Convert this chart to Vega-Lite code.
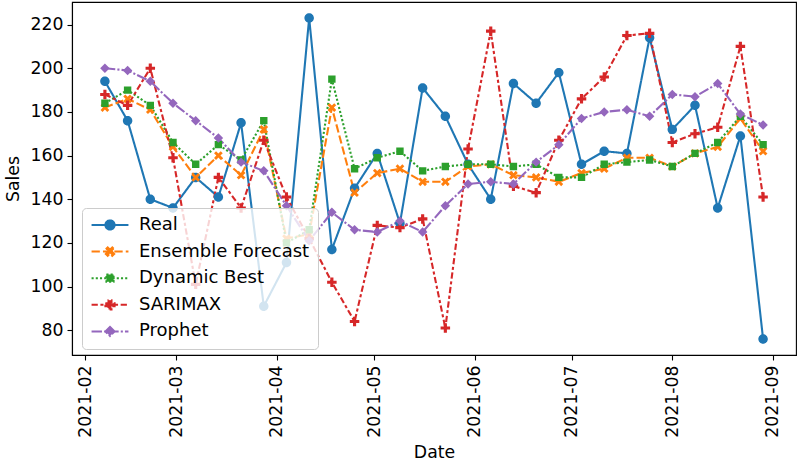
{
  "$schema": "https://vega.github.io/schema/vega-lite/v6.json",
  "width": 724,
  "height": 353,
  "autosize": {"type": "none"},
  "padding": {"left": 72, "top": 2, "right": 1, "bottom": 109},
  "background": "white",
  "config": {
    "font": "DejaVu Sans",
    "view": {"stroke": "black", "strokeWidth": 1.1},
    "axis": {
      "grid": false,
      "domainColor": "black",
      "domainWidth": 1.1,
      "tickColor": "black",
      "tickWidth": 1.1,
      "tickSize": 5,
      "labelPadding": 4,
      "labelFont": "DejaVu Sans",
      "labelFontSize": 17.3,
      "labelColor": "black",
      "titleFont": "DejaVu Sans",
      "titleFontSize": 17.3,
      "titleFontWeight": "normal",
      "titleColor": "black"
    }
  },
  "data": {
    "values": [
      {"Date": "2021-02-07", "Real": 194, "Ensemble Forecast": 182, "Dynamic Best": 184, "SARIMAX": 188, "Prophet": 200},
      {"Date": "2021-02-14", "Real": 176, "Ensemble Forecast": 186, "Dynamic Best": 190, "SARIMAX": 183, "Prophet": 199},
      {"Date": "2021-02-21", "Real": 140, "Ensemble Forecast": 181, "Dynamic Best": 183, "SARIMAX": 200, "Prophet": 194},
      {"Date": "2021-02-28", "Real": 136, "Ensemble Forecast": 164, "Dynamic Best": 166, "SARIMAX": 159, "Prophet": 184},
      {"Date": "2021-03-07", "Real": 150, "Ensemble Forecast": 150, "Dynamic Best": 156, "SARIMAX": 101, "Prophet": 176},
      {"Date": "2021-03-14", "Real": 141, "Ensemble Forecast": 160, "Dynamic Best": 165, "SARIMAX": 150, "Prophet": 168},
      {"Date": "2021-03-21", "Real": 175, "Ensemble Forecast": 151, "Dynamic Best": 158, "SARIMAX": 136, "Prophet": 157},
      {"Date": "2021-03-28", "Real": 91, "Ensemble Forecast": 172, "Dynamic Best": 176, "SARIMAX": 167, "Prophet": 153},
      {"Date": "2021-04-04", "Real": 111, "Ensemble Forecast": 122, "Dynamic Best": 120, "SARIMAX": 141, "Prophet": 137},
      {"Date": "2021-04-11", "Real": 223, "Ensemble Forecast": 124, "Dynamic Best": 126, "SARIMAX": 122, "Prophet": 121},
      {"Date": "2021-04-18", "Real": 117, "Ensemble Forecast": 182, "Dynamic Best": 195, "SARIMAX": 102, "Prophet": 134},
      {"Date": "2021-04-25", "Real": 145, "Ensemble Forecast": 143, "Dynamic Best": 154, "SARIMAX": 84, "Prophet": 126},
      {"Date": "2021-05-02", "Real": 161, "Ensemble Forecast": 152, "Dynamic Best": 159, "SARIMAX": 128, "Prophet": 125},
      {"Date": "2021-05-09", "Real": 129, "Ensemble Forecast": 154, "Dynamic Best": 162, "SARIMAX": 127, "Prophet": 130},
      {"Date": "2021-05-16", "Real": 191, "Ensemble Forecast": 148, "Dynamic Best": 153, "SARIMAX": 131, "Prophet": 125},
      {"Date": "2021-05-23", "Real": 178, "Ensemble Forecast": 148, "Dynamic Best": 155, "SARIMAX": 81, "Prophet": 137},
      {"Date": "2021-05-30", "Real": 156, "Ensemble Forecast": 155, "Dynamic Best": 156, "SARIMAX": 163, "Prophet": 147},
      {"Date": "2021-06-06", "Real": 140, "Ensemble Forecast": 156, "Dynamic Best": 156, "SARIMAX": 217, "Prophet": 148},
      {"Date": "2021-06-13", "Real": 193, "Ensemble Forecast": 151, "Dynamic Best": 155, "SARIMAX": 146, "Prophet": 147},
      {"Date": "2021-06-20", "Real": 184, "Ensemble Forecast": 150, "Dynamic Best": 156, "SARIMAX": 143, "Prophet": 157},
      {"Date": "2021-06-27", "Real": 198, "Ensemble Forecast": 148, "Dynamic Best": 150, "SARIMAX": 167, "Prophet": 165},
      {"Date": "2021-07-04", "Real": 156, "Ensemble Forecast": 152, "Dynamic Best": 150, "SARIMAX": 186, "Prophet": 177},
      {"Date": "2021-07-11", "Real": 162, "Ensemble Forecast": 154, "Dynamic Best": 156, "SARIMAX": 196, "Prophet": 180},
      {"Date": "2021-07-18", "Real": 161, "Ensemble Forecast": 159, "Dynamic Best": 157, "SARIMAX": 215, "Prophet": 181},
      {"Date": "2021-07-25", "Real": 214, "Ensemble Forecast": 159, "Dynamic Best": 158, "SARIMAX": 216, "Prophet": 178},
      {"Date": "2021-08-01", "Real": 172, "Ensemble Forecast": 155, "Dynamic Best": 155, "SARIMAX": 166, "Prophet": 188},
      {"Date": "2021-08-08", "Real": 183, "Ensemble Forecast": 161, "Dynamic Best": 161, "SARIMAX": 170, "Prophet": 187},
      {"Date": "2021-08-15", "Real": 136, "Ensemble Forecast": 164, "Dynamic Best": 166, "SARIMAX": 173, "Prophet": 193},
      {"Date": "2021-08-22", "Real": 169, "Ensemble Forecast": 177, "Dynamic Best": 178, "SARIMAX": 210, "Prophet": 179},
      {"Date": "2021-08-29", "Real": 76, "Ensemble Forecast": 162, "Dynamic Best": 165, "SARIMAX": 141, "Prophet": 174}
    ]
  },
  "transform": [
    {"fold": ["Real", "Ensemble Forecast", "Dynamic Best", "SARIMAX", "Prophet"], "as": ["Series", "Sales"]}
  ],
  "encoding": {
    "x": {
      "field": "Date",
      "type": "temporal",
      "scale": {
        "type": "utc",
        "domain": [
          {"year": 2021, "month": 1, "date": 27, "hours": 20, "minutes": 24, "utc": true},
          {"year": 2021, "month": 9, "date": 8, "hours": 3, "minutes": 36, "utc": true}
        ]
      },
      "axis": {
        "title": "Date",
        "titlePadding": 6,
        "values": [
          {"year": 2021, "month": 2, "date": 1, "utc": true},
          {"year": 2021, "month": 3, "date": 1, "utc": true},
          {"year": 2021, "month": 4, "date": 1, "utc": true},
          {"year": 2021, "month": 5, "date": 1, "utc": true},
          {"year": 2021, "month": 6, "date": 1, "utc": true},
          {"year": 2021, "month": 7, "date": 1, "utc": true},
          {"year": 2021, "month": 8, "date": 1, "utc": true},
          {"year": 2021, "month": 9, "date": 1, "utc": true}
        ],
        "labelExpr": "utcFormat(datum.value, '%Y-%m')",
        "labelAngle": -90,
        "labelAlign": "right",
        "labelBaseline": "middle",
        "labelPadding": 5,
        "labelOverlap": false
      }
    },
    "y": {
      "field": "Sales",
      "type": "quantitative",
      "scale": {"domain": [68.65, 230.35], "nice": false, "zero": false},
      "axis": {
        "title": "Sales",
        "titlePadding": 8,
        "values": [80, 100, 120, 140, 160, 180, 200, 220],
        "labelPadding": 4
      }
    },
    "color": {
      "field": "Series",
      "type": "nominal",
      "scale": {
        "domain": ["Real", "Ensemble Forecast", "Dynamic Best", "SARIMAX", "Prophet"],
        "range": ["#1f77b4", "#ff7f0e", "#2ca02c", "#d62728", "#9467bd"]
      },
      "legend": {
        "title": null,
        "orient": "none",
        "legendX": 10,
        "legendY": 206,
        "padding": 8,
        "fillColor": "rgba(255,255,255,0.8)",
        "strokeColor": "#cccccc",
        "cornerRadius": 4,
        "symbolSize": 85,
        "symbolStrokeWidth": 2,
        "symbolOffset": 11,
        "rowPadding": 8.6,
        "labelOffset": 20,
        "labelFont": "DejaVu Sans",
        "labelFontSize": 18,
        "labelColor": "black",
        "labelLimit": 300
      }
    }
  },
  "layer": [
    {
      "mark": {"type": "line", "strokeWidth": 2.1},
      "encoding": {
        "strokeDash": {
          "field": "Series",
          "type": "nominal",
          "scale": {
            "domain": ["Real", "Ensemble Forecast", "Dynamic Best", "SARIMAX", "Prophet"],
            "range": [[1, 0], [8.3, 3.1], [2.1, 2.1], [6.25, 2.6, 3.1, 2.6], [10.4, 2.1, 2.1, 2.1]]
          }
        }
      }
    },
    {
      "mark": {"type": "point", "filled": true, "size": 90, "opacity": 1},
      "encoding": {
        "shape": {
          "field": "Series",
          "type": "nominal",
          "scale": {
            "domain": ["Real", "Ensemble Forecast", "Dynamic Best", "SARIMAX", "Prophet"],
            "range": [
              "M-4,0H4M-1,0A1,1 0 1 0 1,0A1,1 0 1 0 -1,0Z",
              "M-4,0H4M-0.495,-0.919L0,-0.424L0.495,-0.919L0.919,-0.495L0.424,0L0.919,0.495L0.495,0.919L0,0.424L-0.495,0.919L-0.919,0.495L-0.424,0L-0.919,-0.495Z",
              "M-4,0H4M-0.78,-0.78H0.78V0.78H-0.78Z",
              "M-4,0H4M-1,-0.33H-0.33V-1H0.33V-0.33H1V0.33H0.33V1H-0.33V0.33H-1Z",
              "M-4,0H4M0,-1L1,0L0,1L-1,0Z"
            ]
          }
        }
      }
    }
  ]
}
